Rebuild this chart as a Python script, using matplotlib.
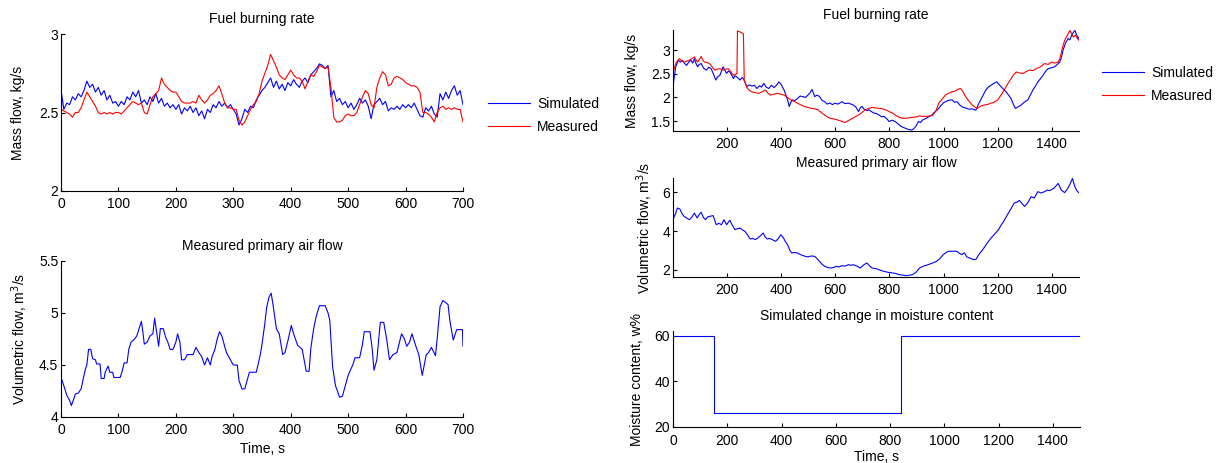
import matplotlib
matplotlib.use("Agg")
import matplotlib.pyplot as plt

plt.rcParams["font.family"] = ["Liberation Sans", "DejaVu Sans"]
plt.rcParams["font.size"] = 10

# ---------------- Left column: 0-700 s run ----------------
left_fuel_time = [0, 1] + list(range(5, 701, 5))
left_fuel_sim = [
    2.00, 2.62, 2.52, 2.56, 2.55, 2.60, 2.58, 2.62, 2.60, 2.64,
    2.70, 2.66, 2.68, 2.63, 2.66, 2.61, 2.64, 2.58, 2.61, 2.56,
    2.57, 2.54, 2.57, 2.55, 2.60, 2.58, 2.63, 2.60, 2.64, 2.56,
    2.58, 2.55, 2.60, 2.57, 2.62, 2.56, 2.59, 2.54, 2.56, 2.53,
    2.55, 2.52, 2.55, 2.49, 2.53, 2.51, 2.54, 2.50, 2.53, 2.48,
    2.51, 2.46, 2.52, 2.50, 2.55, 2.53, 2.57, 2.54, 2.56, 2.53,
    2.55, 2.52, 2.49, 2.42, 2.46, 2.52, 2.50, 2.54, 2.53, 2.58,
    2.61, 2.64, 2.66, 2.69, 2.72, 2.66, 2.70, 2.65, 2.68, 2.64,
    2.69, 2.67, 2.71, 2.68, 2.66, 2.70, 2.72, 2.69, 2.74, 2.76,
    2.78, 2.81, 2.80, 2.78, 2.80, 2.60, 2.64, 2.57, 2.59, 2.55,
    2.57, 2.53, 2.56, 2.52, 2.55, 2.59, 2.56, 2.58, 2.54, 2.46,
    2.55, 2.57, 2.59, 2.55, 2.57, 2.51, 2.53, 2.52, 2.54, 2.52,
    2.55, 2.53, 2.55, 2.53, 2.56, 2.52, 2.48, 2.47, 2.53, 2.51,
    2.54, 2.49, 2.47, 2.62, 2.58, 2.63, 2.59, 2.64, 2.67, 2.61,
    2.64, 2.55,
]
left_fuel_meas = [
    2.52, 2.52, 2.51, 2.50, 2.49, 2.47, 2.50, 2.50, 2.53, 2.58,
    2.63, 2.60, 2.57, 2.54, 2.50, 2.49, 2.50, 2.49, 2.50, 2.49,
    2.50, 2.50, 2.49, 2.51, 2.53, 2.55, 2.57, 2.56, 2.55, 2.56,
    2.50, 2.49, 2.55, 2.60, 2.62, 2.64, 2.72, 2.68, 2.66, 2.64,
    2.63, 2.63, 2.60, 2.57, 2.56, 2.56, 2.56, 2.57, 2.56, 2.61,
    2.58, 2.56, 2.58, 2.61, 2.62, 2.64, 2.67, 2.62, 2.56, 2.53,
    2.53, 2.52, 2.52, 2.45, 2.42, 2.44, 2.48, 2.52, 2.55, 2.57,
    2.62, 2.70, 2.75, 2.80, 2.87, 2.83, 2.79, 2.74, 2.72, 2.71,
    2.74, 2.77, 2.74, 2.72, 2.72, 2.70, 2.65, 2.70, 2.74, 2.73,
    2.76, 2.80, 2.79, 2.78, 2.79, 2.66, 2.47, 2.44, 2.44, 2.45,
    2.48, 2.49, 2.48, 2.48, 2.50, 2.55, 2.60, 2.64, 2.62, 2.55,
    2.53, 2.66, 2.72, 2.76, 2.74, 2.67, 2.68, 2.72, 2.73, 2.72,
    2.71, 2.69, 2.68, 2.67, 2.67, 2.66, 2.63, 2.50, 2.50, 2.49,
    2.47, 2.44, 2.50, 2.53, 2.54, 2.52, 2.53, 2.52, 2.53, 2.52,
    2.52, 2.44,
]

left_air_time = [
    0, 5, 10, 15, 18, 22, 25, 30, 35, 40, 43, 45, 48, 52, 55, 60, 62, 68,
    70, 75, 77, 82, 85, 90, 92, 100, 103, 106, 110, 115, 118, 122, 128,
    132, 136, 140, 143, 145, 150, 155, 160, 163, 167, 170, 173, 178, 182,
    186, 190, 195, 200, 203, 207, 210, 215, 220, 230, 235, 240, 245, 250,
    255, 260, 263, 268, 272, 276, 280, 284, 288, 295, 300, 307, 310, 315,
    320, 324, 328, 335, 340, 343, 347, 350, 355, 358, 362, 366, 370, 375,
    380, 386, 390, 395, 401, 405, 412, 420, 427, 432, 435, 440, 444, 450,
    460, 465, 468, 473, 478, 482, 485, 490, 495, 500, 503, 508, 512, 520,
    525, 528, 538, 542, 545, 550, 556, 562, 567, 572, 578, 585, 593, 598,
    602, 607, 611, 618, 623, 629, 636, 640, 645, 652, 655, 660, 665, 670,
    674, 677, 683, 689, 695, 699, 700,
]
left_air_flow = [
    4.38, 4.30, 4.21, 4.16, 4.11, 4.17, 4.22, 4.23, 4.27, 4.40, 4.47, 4.50,
    4.65, 4.65, 4.56, 4.55, 4.51, 4.51, 4.37, 4.37, 4.43, 4.49, 4.43, 4.43,
    4.38, 4.38, 4.38, 4.43, 4.52, 4.52, 4.65, 4.72, 4.75, 4.78, 4.85, 4.92,
    4.80, 4.70, 4.72, 4.78, 4.80, 4.95, 4.80, 4.68, 4.85, 4.85, 4.77, 4.72,
    4.65, 4.65, 4.72, 4.80, 4.72, 4.55, 4.55, 4.60, 4.60, 4.67, 4.62, 4.58,
    4.50, 4.57, 4.50, 4.58, 4.65, 4.75, 4.82, 4.78, 4.70, 4.62, 4.55, 4.50,
    4.50, 4.35, 4.27, 4.27, 4.35, 4.43, 4.43, 4.43, 4.50, 4.60, 4.70, 4.90,
    5.05, 5.15, 5.19, 5.05, 4.85, 4.80, 4.60, 4.62, 4.73, 4.88, 4.80, 4.69,
    4.65, 4.44, 4.44, 4.66, 4.85, 4.96, 5.07, 5.07, 5.00, 4.93, 4.48, 4.30,
    4.24, 4.19, 4.20, 4.30, 4.40, 4.44, 4.50, 4.57, 4.57, 4.70, 4.82, 4.82,
    4.65, 4.45, 4.55, 4.91, 4.91, 4.75, 4.55, 4.60, 4.62, 4.80, 4.75, 4.68,
    4.72, 4.80, 4.68, 4.60, 4.40, 4.60, 4.62, 4.67, 4.59, 4.75, 5.06, 5.12,
    5.10, 5.08, 4.93, 4.74, 4.84, 4.84, 4.84, 4.68,
]

# ---------------- Right column: 1-1500 s run ----------------
right_fuel_sim_time = [
    1, 6, 11, 16, 20, 28, 36, 44, 51, 58, 67, 74, 80, 86, 92, 98, 105, 114,
    124, 133, 142, 150, 159, 166, 174, 180, 186, 192, 199, 205, 211, 218,
    224, 230, 236, 243, 249, 255, 261, 268, 274, 283, 292, 301, 311, 320,
    328, 336, 345, 355, 364, 374, 383, 392, 400, 405, 411, 418, 424, 430,
    436, 442, 450, 461, 470, 480, 490, 499, 507, 514, 519, 524, 533, 542,
    551, 561, 570, 580, 590, 599, 610, 624, 636, 649, 658, 667, 676, 686,
    692, 699, 705, 711, 718, 724, 734, 742, 752, 761, 771, 780, 790, 799,
    810, 821, 830, 842, 850, 858, 866, 874, 883, 892, 899, 907, 915, 924,
    933, 945, 955, 965, 975, 982, 990, 1000, 1007, 1018, 1031, 1040, 1050,
    1060, 1069, 1080, 1094, 1105, 1119, 1128, 1137, 1146, 1156, 1165, 1175,
    1186, 1197, 1204, 1212, 1220, 1231, 1240, 1249, 1258, 1265, 1275, 1286,
    1298, 1311, 1320, 1330, 1340, 1348, 1358, 1367, 1376, 1386, 1398, 1410,
    1420, 1429, 1435, 1441, 1450, 1460, 1466, 1473, 1479, 1485, 1491, 1497,
    1500,
]
right_fuel_sim = [
    2.23, 2.45, 2.65, 2.72, 2.79, 2.75, 2.79, 2.72, 2.68, 2.74, 2.79, 2.73,
    2.82, 2.72, 2.65, 2.70, 2.72, 2.62, 2.58, 2.64, 2.61, 2.50, 2.37, 2.44,
    2.47, 2.56, 2.65, 2.58, 2.51, 2.56, 2.54, 2.47, 2.40, 2.46, 2.44, 2.40,
    2.37, 2.42, 2.40, 2.30, 2.23, 2.27, 2.24, 2.26, 2.19, 2.25, 2.22, 2.30,
    2.22, 2.19, 2.26, 2.21, 2.26, 2.33, 2.28, 2.22, 2.16, 2.05, 1.95, 1.81,
    1.90, 1.95, 1.93, 1.98, 2.03, 2.02, 2.00, 2.05, 2.10, 2.17, 2.10, 2.02,
    2.05, 2.02, 1.94, 1.91, 1.86, 1.88, 1.85, 1.88, 1.86, 1.91, 1.87, 1.88,
    1.86, 1.84, 1.80, 1.70, 1.78, 1.81, 1.76, 1.74, 1.72, 1.74, 1.70, 1.67,
    1.66, 1.63, 1.59, 1.60, 1.55, 1.49, 1.52, 1.49, 1.45, 1.39, 1.37, 1.35,
    1.33, 1.32, 1.31, 1.35, 1.40, 1.49, 1.47, 1.53, 1.55, 1.59, 1.62, 1.68,
    1.73, 1.77, 1.83, 1.89, 1.91, 1.94, 1.95, 1.90, 1.91, 1.84, 1.80, 1.78,
    1.75, 1.76, 1.73, 1.85, 1.95, 2.05, 2.16, 2.22, 2.26, 2.30, 2.33, 2.28,
    2.23, 2.18, 2.12, 2.05, 1.98, 1.85, 1.77, 1.80, 1.84, 1.90, 1.95, 2.05,
    2.16, 2.25, 2.33, 2.40, 2.47, 2.55, 2.61, 2.63, 2.65, 2.70, 2.75, 2.85,
    3.00, 3.15, 3.25, 3.22, 3.32, 3.38, 3.42, 3.33, 3.25, 3.28,
]

right_fuel_meas_time = [
    1, 6, 11, 18, 24, 33, 42, 52, 61, 70, 80, 86, 92, 98, 105, 110, 117,
    127, 136, 145, 155, 165, 174, 180, 186, 195, 205, 214, 224, 230, 237,
    239, 248, 255, 261, 264, 270, 274, 283, 292, 305, 318, 330, 342, 352,
    361, 373, 386, 398, 411, 424, 436, 448, 461, 474, 486, 499, 511, 524,
    536, 549, 561, 570, 580, 592, 605, 620, 636, 645, 655, 670, 686, 698,
    711, 724, 736, 748, 761, 774, 786, 799, 811, 824, 836, 848, 861, 874,
    886, 899, 911, 924, 936, 948, 961, 972, 982, 995, 1007, 1019, 1031,
    1045, 1055, 1063, 1072, 1081, 1094, 1106, 1115, 1125, 1137, 1150, 1162,
    1175, 1187, 1200, 1212, 1224, 1236, 1249, 1258, 1268, 1280, 1293, 1305,
    1317, 1330, 1342, 1355, 1364, 1373, 1386, 1398, 1410, 1423, 1429, 1435,
    1441, 1447, 1455, 1462, 1466, 1473, 1479, 1488, 1495, 1500,
]
right_fuel_meas = [
    2.54, 2.62, 2.72, 2.78, 2.82, 2.78, 2.75, 2.77, 2.79, 2.82, 2.86, 2.80,
    2.75, 2.80, 2.87, 2.80, 2.75, 2.74, 2.72, 2.65, 2.58, 2.60, 2.61, 2.60,
    2.58, 2.60, 2.61, 2.55, 2.47, 2.49, 2.50, 3.41, 3.39, 3.37, 3.35, 2.37,
    2.28, 2.21, 2.15, 2.12, 2.10, 2.09, 2.12, 2.16, 2.09, 2.05, 2.07, 2.09,
    2.07, 2.05, 2.00, 1.95, 1.92, 1.88, 1.84, 1.81, 1.79, 1.77, 1.76, 1.74,
    1.68, 1.63, 1.59, 1.56, 1.55, 1.53, 1.50, 1.47, 1.50, 1.53, 1.58, 1.63,
    1.68, 1.74, 1.77, 1.79, 1.78, 1.77, 1.76, 1.74, 1.70, 1.67, 1.62, 1.58,
    1.56, 1.56, 1.57, 1.58, 1.59, 1.61, 1.60, 1.60, 1.61, 1.63, 1.72, 1.88,
    1.97, 2.05, 2.09, 2.12, 2.14, 2.18, 2.19, 2.12, 2.02, 1.92, 1.84, 1.80,
    1.77, 1.82, 1.84, 1.85, 1.88, 1.90, 1.95, 2.05, 2.16, 2.28, 2.40, 2.48,
    2.54, 2.52, 2.51, 2.55, 2.58, 2.57, 2.61, 2.64, 2.68, 2.72, 2.70, 2.75,
    2.73, 2.75, 2.82, 2.96, 3.10, 3.21, 3.30, 3.38, 3.42, 3.35, 3.28, 3.32,
    3.24, 3.21,
]

right_air_time = [
    1, 11, 17, 26, 34, 42, 52, 61, 70, 80, 90, 98, 105, 113, 121, 129, 136,
    149, 155, 161, 170, 180, 189, 199, 205, 211, 220, 230, 240, 249, 258,
    267, 276, 286, 295, 305, 315, 324, 334, 341, 349, 358, 367, 380, 390,
    399, 409, 416, 424, 431, 439, 450, 461, 470, 480, 490, 499, 511, 524,
    533, 542, 551, 561, 573, 586, 596, 605, 614, 624, 636, 649, 658, 667,
    680, 692, 705, 717, 726, 736, 745, 755, 767, 780, 795, 811, 823, 836,
    848, 861, 873, 886, 898, 911, 926, 942, 958, 974, 986, 999, 1008, 1017,
    1033, 1049, 1058, 1067, 1077, 1086, 1098, 1111, 1120, 1130, 1145, 1161,
    1176, 1192, 1202, 1211, 1224, 1236, 1249, 1261, 1274, 1280, 1290, 1299,
    1311, 1323, 1335, 1348, 1360, 1373, 1383, 1392, 1408, 1423, 1435, 1447,
    1457, 1466, 1476, 1484, 1491, 1500,
]
right_air_flow = [
    4.58, 4.92, 5.18, 5.13, 4.90, 4.75, 4.66, 4.58, 4.70, 4.92, 4.67, 4.85,
    4.96, 4.70, 4.58, 4.72, 4.75, 4.79, 4.55, 4.32, 4.40, 4.32, 4.58, 4.32,
    4.45, 4.55, 4.30, 4.07, 4.12, 4.15, 4.05, 3.98, 3.80, 3.59, 3.62, 3.56,
    3.65, 3.76, 3.90, 3.70, 3.59, 3.62, 3.56, 3.47, 3.62, 3.81, 3.64, 3.45,
    3.30, 3.05, 2.87, 2.90, 2.87, 2.80, 2.74, 2.70, 2.67, 2.72, 2.70, 2.58,
    2.44, 2.30, 2.19, 2.12, 2.10, 2.14, 2.19, 2.15, 2.22, 2.20, 2.27, 2.24,
    2.27, 2.20, 2.10, 2.26, 2.36, 2.22, 2.10, 2.08, 2.05, 1.98, 1.93, 1.88,
    1.85, 1.82, 1.76, 1.74, 1.71, 1.73, 1.76, 1.88, 2.10, 2.20, 2.27, 2.35,
    2.44, 2.58, 2.79, 2.88, 2.96, 2.96, 2.96, 2.86, 2.79, 2.88, 2.67, 2.60,
    2.53, 2.55, 2.79, 3.05, 3.38, 3.65, 3.90, 4.05, 4.27, 4.55, 4.84, 5.15,
    5.44, 5.50, 5.57, 5.40, 5.26, 5.45, 5.76, 5.70, 6.02, 5.95, 6.02, 6.10,
    6.07, 6.20, 6.44, 6.10, 5.97, 6.15, 6.38, 6.70, 6.30, 6.09, 5.95,
]

moisture_time = [0, 150, 150, 840, 840, 1500]
moisture_content = [60, 60, 26, 26, 60, 60]

# ---------------- Axis ticks and labels ----------------
left_xticks = [0, 100, 200, 300, 400, 500, 600, 700]
left_fuel_yticks = [2, 2.5, 3]
left_air_yticks = [4, 4.5, 5, 5.5]
right_xticks_top = [200, 400, 600, 800, 1000, 1200, 1400]
right_xticks_bottom = [0, 200, 400, 600, 800, 1000, 1200, 1400]
right_fuel_yticks = [1.5, 2, 2.5, 3]
right_air_yticks = [2, 4, 6]
moisture_yticks = [20, 40, 60]

series_labels = ["Simulated", "Measured"]
title_fuel = "Fuel burning rate"
title_air = "Measured primary air flow"
title_moisture = "Simulated change in moisture content"
ylabel_fuel = "Mass flow, kg/s"
ylabel_air = "Volumetric flow, m$^3$/s"
ylabel_moisture = "Moisture content, w%"
xlabel_time = "Time, s"

BLUE = "#0000ff"
RED = "#ff0000"
LW = 0.8

W, H = 1229, 463
fig = plt.figure(figsize=(W / 100, H / 100), dpi=100)


def add_axes(x0, x1, y_top, y_bot):
    """Create axes from a pixel box (top-left origin)."""
    return fig.add_axes([x0 / W, 1 - y_bot / H, (x1 - x0) / W, (y_bot - y_top) / H])


def style(ax, xticks, yticks, xlim, ylim, title, ylabel, ylab_x,
          xlabel=None, xpad=4, labelpad=2):
    ax.set_xlim(*xlim)
    ax.set_ylim(*ylim)
    ax.set_xticks(xticks)
    ax.set_xticklabels([f"{v:g}" for v in xticks])
    ax.set_yticks(yticks)
    ax.set_yticklabels([f"{v:g}" for v in yticks])
    for side in ("top", "right"):
        ax.spines[side].set_visible(False)
    for side in ("left", "bottom"):
        ax.spines[side].set_linewidth(0.8)
        ax.spines[side].set_color("black")
    ax.tick_params(axis="both", direction="in", length=3, width=0.8,
                   labelsize=10, colors="black")
    ax.tick_params(axis="x", pad=xpad)
    ax.tick_params(axis="y", pad=2)
    ax.set_title(title, fontsize=10, pad=8)
    ax.set_ylabel(ylabel, fontsize=10)
    ax.yaxis.label.set_va("center")
    ax.yaxis.set_label_coords(ylab_x, 0.5)
    if xlabel:
        ax.set_xlabel(xlabel, fontsize=10, labelpad=labelpad)
    ax.set_facecolor("none")


legend_style = dict(bbox_transform=fig.transFigure, frameon=False, borderpad=0,
                    borderaxespad=0, handlelength=3.0, handletextpad=0.55,
                    labelspacing=0.62, fontsize=10, loc="upper left")

# Left: fuel burning rate
ax1 = add_axes(61, 463, 34, 191)
ax1.plot(left_fuel_time, left_fuel_sim, color=BLUE, lw=LW, label=series_labels[0])
ax1.plot(left_fuel_time, left_fuel_meas, color=RED, lw=LW, label=series_labels[1])
style(ax1, left_xticks, left_fuel_yticks, (0, 700), (2, 3),
      title_fuel, ylabel_fuel, -0.107)
ax1.legend(bbox_to_anchor=(488 / W, 1 - 97 / H), **legend_style)

# Left: primary air flow
ax2 = add_axes(61, 463, 261, 417)
ax2.plot(left_air_time, left_air_flow, color=BLUE, lw=LW)
style(ax2, left_xticks, left_air_yticks, (0, 700), (4, 5.5),
      title_air, ylabel_air, -0.102, xlabel_time, labelpad=4)

# Right: fuel burning rate
ax3 = add_axes(673, 1079, 30, 131)
ax3.plot(right_fuel_sim_time, right_fuel_sim, color=BLUE, lw=LW, label=series_labels[0])
ax3.plot(right_fuel_meas_time, right_fuel_meas, color=RED, lw=LW, label=series_labels[1])
style(ax3, right_xticks_top, right_fuel_yticks, (1, 1500), (1.29, 3.43),
      title_fuel, ylabel_fuel, -0.101)
ax3.legend(bbox_to_anchor=(1102 / W, 1 - 66 / H), **legend_style)

# Right: primary air flow
ax4 = add_axes(673, 1079, 178, 277)
ax4.plot(right_air_time, right_air_flow, color=BLUE, lw=LW)
style(ax4, right_xticks_top, right_air_yticks, (1, 1500), (1.64, 6.72),
      title_air, ylabel_air, -0.069)

# Right: moisture content step
ax5 = add_axes(673, 1080, 331, 427)
ax5.plot(moisture_time, moisture_content, color=BLUE, lw=LW)
style(ax5, right_xticks_bottom, moisture_yticks, (0, 1500), (20, 62),
      title_moisture, ylabel_moisture, -0.089, xlabel_time, xpad=5, labelpad=1.5)

fig.savefig("out.png", dpi=100, facecolor="white")
